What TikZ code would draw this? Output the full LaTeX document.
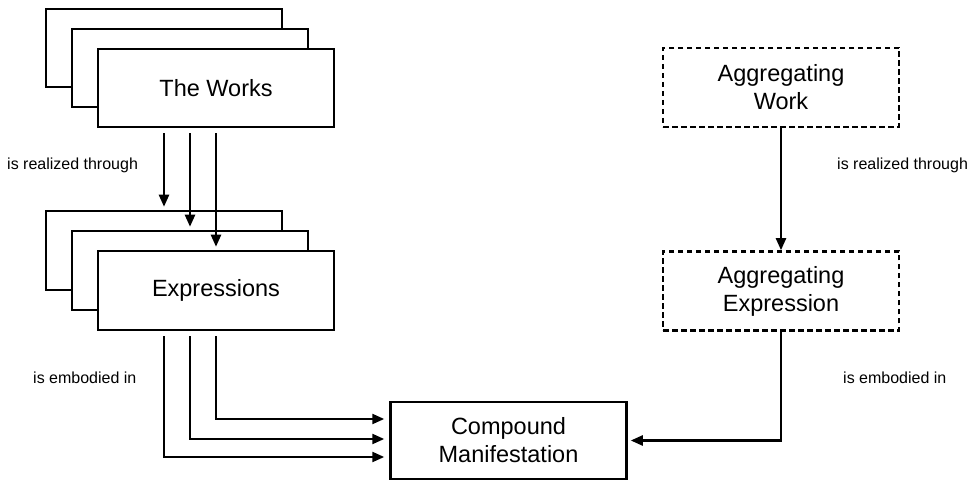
\documentclass[tikz,border=0pt]{standalone}
\usepackage{fontspec}
\setmainfont{Liberation Sans}
\usetikzlibrary{arrows.meta,calc}
\begin{document}
\begin{tikzpicture}[x=1pt,y=-1pt,
 box/.style={draw,line width=2.5pt,fill=white,minimum width=236pt,minimum height=78pt,inner sep=0pt,align=center,font=\fontsize{23.5}{28}\selectfont},
 dbox/.style={box,dash pattern=on 5.5pt off 3.5pt,line width=2.6pt},
 arr/.style={line width=2.3pt,-{Triangle[length=12pt,width=10pt]}},
 lbl/.style={font=\fontsize{16}{19}\selectfont,anchor=west,inner sep=0pt}]
\useasboundingbox (0,0) rectangle (970,481);
% The Works stack
\node[box] (w0) at (164,48) {};
\node[box] (w1) at (190,68) {};
\node[box] (w2) at (216,88) {The Works};
% Expressions stack
\node[box,minimum height=79pt] (e0) at (164,250.5) {};
\node[box,minimum height=79pt] (e1) at (190,270.5) {};
\node[box,minimum height=79pt] (e2) at (216,290.5) {Expressions};
% Compound Manifestation
\node[box,minimum height=77pt] (cm) at (508.5,440.5) {Compound\\Manifestation};
% Aggregating
\node[dbox,minimum height=79pt] (aw) at (781,87.5) {Aggregating\\Work};
\node[dbox,minimum height=79pt] (ae) at (781,291) {Aggregating\\Expression};
% realized-through arrows
\draw[arr] ([yshift=-5pt]w2.south -| e0.north) -- ([yshift=3pt]e0.north);
\draw[arr] ([yshift=-5pt]w2.south -| e1.north) -- ([yshift=3pt]e1.north);
\draw[arr] ([yshift=-5pt]w2.south -| e2.north) -- ([yshift=3pt]e2.north);
% embodied-in arrows
\draw[arr] ([yshift=-5pt]e2.south -| e2.north) |- ($(cm.west)+(-5,-21.5)$);
\draw[arr] ([yshift=-5pt]e2.south -| e1.north) |- ($(cm.west)+(-5,-1.5)$);
\draw[arr] ([yshift=-5pt]e2.south -| e0.north) |- ($(cm.west)+(-5,16.5)$);
% right side
\draw[arr] (aw.south) -- (ae.north);
\draw[arr] (ae.south) |- ([xshift=3pt]cm.east);
% labels
\node[lbl] (l1) at (7,165) {is realized through};
\node[lbl] (l2) at (33,378) {is embodied in};
\node[lbl] (l3) at (837,165) {is realized through};
\node[lbl] (l4) at (843,378) {is embodied in};
\end{tikzpicture}
\end{document}
